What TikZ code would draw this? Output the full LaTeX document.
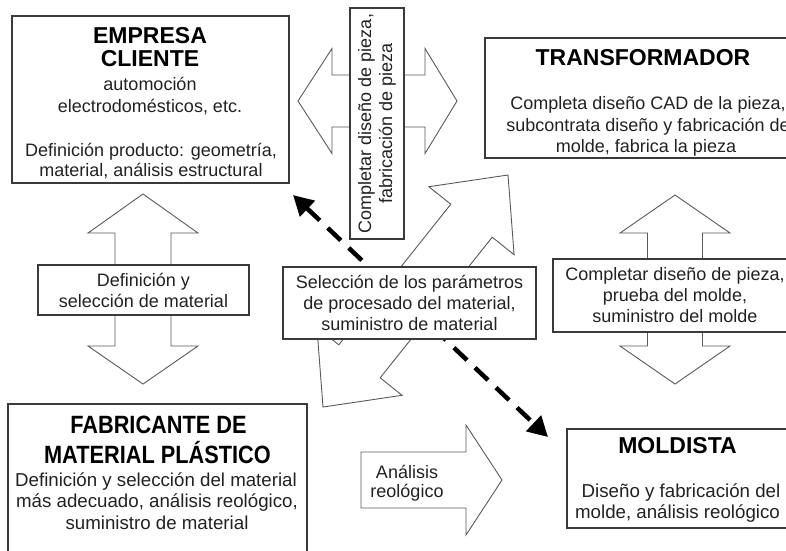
\documentclass[tikz,border=0pt]{standalone}
\usepackage{fontspec}
\setmainfont{Liberation Sans}
\newfontfamily\narrowsans[FakeStretch=0.87]{Liberation Sans}
\usetikzlibrary{arrows.meta}
\newcommand\bodyfs{\fontsize{18}{21}\selectfont}
\newcommand\bigbodyfs{\fontsize{18.7}{21}\selectfont}
\newcommand\ttlfs{\fontsize{23}{26}\selectfont\bfseries}
\newcommand\fabfs{\narrowsans\fontsize{25}{30}\selectfont\bfseries}
\definecolor{ink}{HTML}{222222}
\definecolor{edge}{HTML}{3A3A3A}
\definecolor{blkedge}{HTML}{5A5A5A}
\begin{document}
\begin{tikzpicture}[x=1pt,y=-1pt,
  box/.style={draw=edge, line width=1.4pt, fill=white, inner sep=0pt},
  lbl/.style={draw=edge, line width=1.1pt, fill=white, align=center, inner sep=0pt, font=\bodyfs, text=ink},
  blk/.style={draw=blkedge, line width=0.9pt, fill=white, line join=miter},
  ttl/.style={font=\ttlfs, anchor=base, inner sep=0pt, text=black},
  fab/.style={font=\fabfs, anchor=base, inner sep=0pt, text=black},
  txt/.style={font=\bodyfs, anchor=base, inner sep=0pt, text=ink},
  btxt/.style={txt, font=\bigbodyfs},
  dasharrow/.style={line width=4.5pt, dash pattern=on 18pt off 11pt, black,
    {Triangle[length=20pt,width=21pt]}-{Triangle[length=20pt,width=21pt]}}
]
\useasboundingbox (0,0) rectangle (786,550);
\fill[white] (0,0) rectangle (786,550);

% ---- block arrows ----
% top horizontal double arrow
\draw[blk] (298,101) -- (332,48.5) -- (332,75) -- (425,75) -- (425,48.5) -- (457,101)
  -- (425,153.5) -- (425,127) -- (332,127) -- (332,153.5) -- cycle;
% left vertical double arrow
\draw[blk] (143,194) -- (198,233) -- (171,233) -- (171,346) -- (198,346) -- (143,384)
  -- (88,346) -- (115,346) -- (115,233) -- (88,233) -- cycle;
% right vertical double arrow
\draw[blk] (675,195) -- (730,233) -- (702.5,233) -- (702.5,346) -- (730,346) -- (675,384)
  -- (620,346) -- (647.5,346) -- (647.5,233) -- (620,233) -- cycle;
% central diagonal double arrow
\draw[blk] (508,175) -- (514.1,254.7) -- (492.2,237.2) -- (380.2,377.8) -- (402.1,395.3)
  -- (323,407) -- (316.9,327.3) -- (338.8,344.8) -- (450.8,204.2) -- (428.9,186.7) -- cycle;
% right arrow (analisis reologico)
\draw[blk] (361,452) -- (466,452) -- (466,425) -- (502,480) -- (466,535) -- (466,508) -- (361,508) -- cycle;

% ---- dashed double arrow ----
\coordinate (dA) at (293,195);
\coordinate (dB) at (548,437);
\draw[dasharrow] (dA) -- (dB);

% ---- label boxes ----
\node[lbl, rotate=90, minimum width=231pt, minimum height=54pt] (cdp) at (377,123.5)
  {Completar diseño de pieza,\\fabricación de pieza};
\node[lbl, minimum width=211pt, minimum height=50pt] (dsm) at (143.5,290)
  {Definición y\\selección de material};
\node[lbl, minimum width=253pt, minimum height=72pt] (spm) at (409.5,303)
  {Selección de los parámetros\\de procesado del material,\\suministro de material};
\node[lbl, minimum width=244pt, minimum height=73pt] (cpm) at (675,295.5)
  {Completar diseño de pieza,\\prueba del molde,\\suministro del molde};
\node[txt] (anl1) at (407,478) {Análisis};
\node[txt] (anl2) at (407,497) {reológico};

% ---- main boxes ----
\node[box, minimum width=277pt, minimum height=167pt] (ec) at (150.5,99.5) {};
\node[ttl] (ec1) at (150,43) {EMPRESA};
\node[ttl] (ec2) at (150,66) {CLIENTE};
\node[txt] (ec3) at (150,90) {automoción};
\node[txt] (ec4) at (150,112.5) {electrodomésticos, etc.};
\node[txt] (ec5) at (151,156) {Definición producto: geometría,};
\node[txt] (ec6) at (151,176) {material, análisis estructural};

\node[box, minimum width=325pt, minimum height=120pt] (tr) at (647.5,98) {};
\node[ttl] (tr1) at (643,65) {TRANSFORMADOR};
\node[txt] (tr2) at (648,109) {Completa diseño CAD de la pieza,};
\node[txt] (tr3) at (648,131) {subcontrata diseño y fabricación de};
\node[txt] (tr4) at (646,152) {molde, fabrica la pieza};

\node[box, minimum width=299pt, minimum height=156pt] (fm) at (157.5,482) {};
\node[fab] (fm1) at (158.5,433) {FABRICANTE DE};
\node[fab] (fm2) at (157.5,463) {MATERIAL PLÁSTICO};
\node[btxt] (fm3) at (156,486) {Definición y selección del material};
\node[btxt] (fm4) at (157,507) {más adecuado, análisis reológico,};
\node[btxt] (fm5) at (157,529) {suministro de material};

\node[box, minimum width=228pt, minimum height=99pt] (md) at (681,478.5) {};
\node[ttl] (md1) at (677.5,453) {MOLDISTA};
\node[btxt] (md2) at (681,497) {Diseño y fabricación del};
\node[btxt] (md3) at (677.5,518) {molde, análisis reológico};
\end{tikzpicture}
\end{document}
